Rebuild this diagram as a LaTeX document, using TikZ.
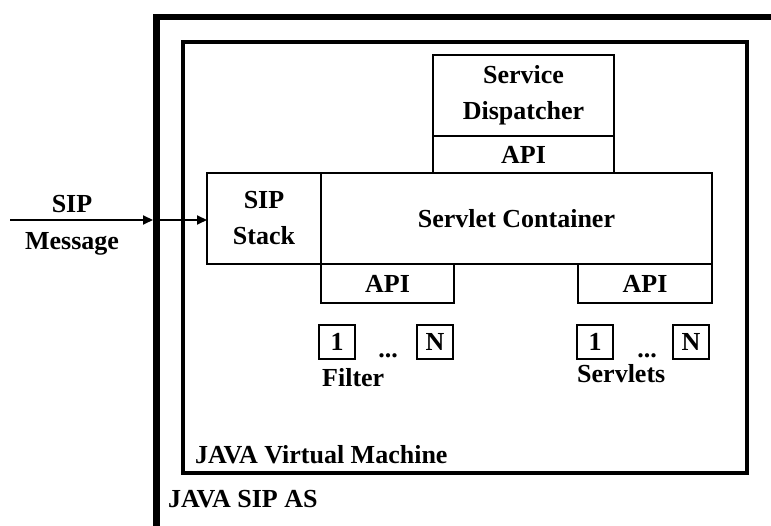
\documentclass[tikz,border=0pt]{standalone}
\usepackage{fontspec}
\setmainfont{Liberation Serif}
\usetikzlibrary{arrows.meta,positioning}

\begin{document}
\begin{tikzpicture}[x=1pt,y=-1pt,
    box/.style={draw,line width=2pt,inner sep=0pt,outer sep=0pt,align=center,
      font=\fontsize{26}{36}\selectfont\bfseries},
    numbox/.style={box,minimum width=36pt,minimum height=34pt},
    txt/.style={inner sep=0pt,font=\fontsize{26}{36}\selectfont\bfseries},
    msg/.style={-{Triangle[length=10pt,width=9pt]},line width=2pt}]
  \useasboundingbox (0,0) rectangle (771,526);
  \clip (0,0) rectangle (771,526);

  % Outer frame: application server
  \node[draw,line width=6.5pt,minimum width=660pt,minimum height=560pt,
        anchor=north west] (sipas) at (153,14) {};
  \node[txt,anchor=base west] (sipaslbl) at (168,507) {JAVA SIP AS};

  % Java virtual machine
  \node[draw,line width=4pt,minimum width=564pt,minimum height=431pt,
        anchor=north west] (jvm) at (181,40) {};
  \node[txt,anchor=base west] (jvmlbl) at (195,463) {JAVA Virtual Machine};

  % SIP stack and servlet container
  \node[box,minimum width=114pt,minimum height=91pt,anchor=north west]
        (stack) at (207,173) {SIP\\Stack};
  \node[box,minimum width=391pt,minimum height=91pt,right=0pt of stack]
        (cont) {Servlet Container};

  % Service dispatcher on top
  \node[box,minimum width=181pt,minimum height=37pt,anchor=south west]
        (dispapi) at (433,173) {API};
  \node[box,minimum width=181pt,minimum height=81pt,above=0pt of dispapi]
        (disp) {Service\\Dispatcher};

  % APIs below the container
  \node[box,minimum width=133pt,minimum height=39pt,anchor=north west]
        (filtapi) at (cont.south west) {API};
  \node[box,minimum width=134pt,minimum height=39pt,anchor=north east]
        (servapi) at (cont.south east) {API};

  % Filters
  \node[numbox] (filt1) at (337,342) {1};
  \node[txt,anchor=base] (filtdots) at (388,358) {...};
  \node[numbox] (filtn) at (435,342) {N};
  \node[txt,anchor=base west] (filtlbl) at (322,387) {Filter};

  % Servlets
  \node[numbox] (serv1) at (595,342) {1};
  \node[txt,anchor=base] (servdots) at (647,358) {...};
  \node[numbox] (servn) at (691,342) {N};
  \node[txt,anchor=base west] (servlbl) at (577,383) {Servlets};

  % Incoming SIP message
  \node[txt,anchor=base] (siplbl) at (72,213) {SIP};
  \node[txt,anchor=base] (msglbl) at (72,250) {Message};
  \coordinate (src) at (10,220);
  \coordinate (entry) at (157,220);
  \draw[msg] (src) -- (src -| sipas.west);
  \draw[msg] (entry) -- (entry -| stack.west);
\end{tikzpicture}
\end{document}
